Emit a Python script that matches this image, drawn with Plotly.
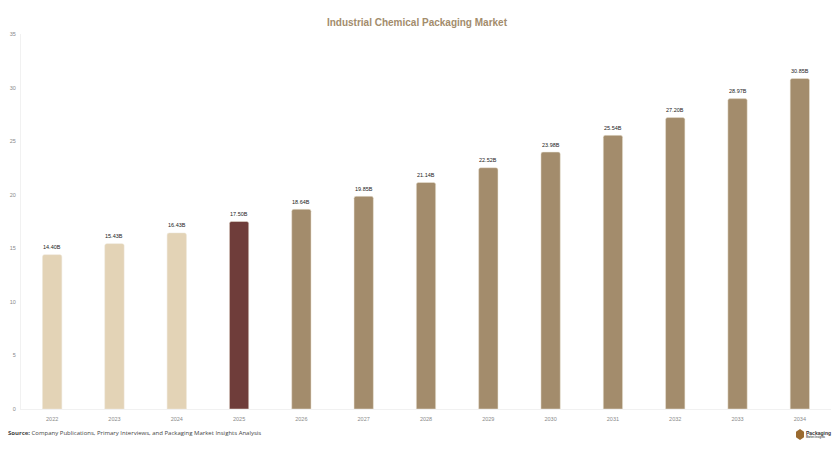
import plotly.graph_objects as go

# Market size by year
years = ["2022", "2023", "2024", "2025", "2026", "2027", "2028",
         "2029", "2030", "2031", "2032", "2033", "2034"]
values = [14.40, 15.43, 16.43, 17.50, 18.64, 19.85, 21.14,
          22.52, 23.98, 25.54, 27.20, 28.97, 30.85]
bar_colors = ["#E3D3B6"] * 3 + ["#6F3D3A"] + ["#A38C6C"] * 9
y_ticks = [0, 5, 10, 15, 20, 25, 30, 35]

fig = go.Figure()

fig.add_trace(go.Bar(
    x=years,
    y=values,
    width=0.31,
    marker=dict(color=bar_colors, cornerradius=2,
                line=dict(color="#EDE6D8", width=0.5)),
    hoverinfo="skip",
))

fig.update_layout(
    width=839,
    height=452,
    margin=dict(l=21, r=8, t=34, b=43),
    paper_bgcolor="white",
    plot_bgcolor="white",
    showlegend=False,
    bargap=0.69,
    title=dict(
        text="<b>Industrial Chemical Packaging Market</b>",
        x=0.497,
        xanchor="center",
        y=0.951,
        yanchor="middle",
        font=dict(family="Liberation Sans", size=10, color="#A38C6C"),
    ),
    xaxis=dict(
        type="category",
        categoryorder="array",
        categoryarray=years,
        range=[-0.5, len(years) - 0.5],
        showgrid=False,
        showline=True,
        linecolor="#F1F1F1",
        linewidth=1,
        ticks="",
        ticklabelstandoff=4,
        tickfont=dict(family="Liberation Sans", size=5.5, color="#8A8A8A"),
    ),
    yaxis=dict(
        range=[0, 35],
        tickvals=y_ticks,
        showgrid=False,
        showline=True,
        linecolor="#F1F1F1",
        linewidth=1,
        zeroline=False,
        ticks="",
        ticklabelstandoff=3,
        tickfont=dict(family="Liberation Sans", size=5.5, color="#8A8A8A"),
    ),
)

# Value labels sit a little higher than textposition="outside" allows
for i, value in enumerate(values):
    fig.add_annotation(
        x=i, y=value, yanchor="bottom", yshift=2.5, showarrow=False,
        text=f"{value:.2f}B",
        font=dict(family="Liberation Sans", size=5.5, color="#222222"),
    )

# Source line
fig.add_annotation(
    xref="paper", yref="paper", x=-0.0185, y=-0.0635,
    xanchor="left", yanchor="middle", showarrow=False,
    text="<b>Source:</b> Company Publications, Primary Interviews, and Packaging Market Insights Analysis",
    font=dict(family="Open Sans", size=6, color="#444444"),
)

# Logo: small hexagon and wordmark, bottom right
fig.add_shape(
    type="path", xref="paper", yref="paper",
    path="M 0.9617 -0.0533 L 0.9667 -0.0607 L 0.9667 -0.0753 L 0.9617 -0.0827 "
         "L 0.9568 -0.0753 L 0.9568 -0.0607 Z",
    fillcolor="#9A6A2F", line=dict(width=0),
)
fig.add_annotation(
    xref="paper", yref="paper", x=0.9665, y=-0.063,
    xanchor="left", yanchor="middle", showarrow=False,
    text="<b>Packaging</b>",
    font=dict(family="Liberation Sans", size=5, color="#333333"),
)
fig.add_annotation(
    xref="paper", yref="paper", x=0.9665, y=-0.0747,
    xanchor="left", yanchor="middle", showarrow=False,
    text="<b>Market Insights</b>",
    font=dict(family="Liberation Sans", size=2.6, color="#555555"),
)

fig.write_html("out.html", config=dict(displayModeBar=False),
               post_script="document.body.style.margin = '0';")
